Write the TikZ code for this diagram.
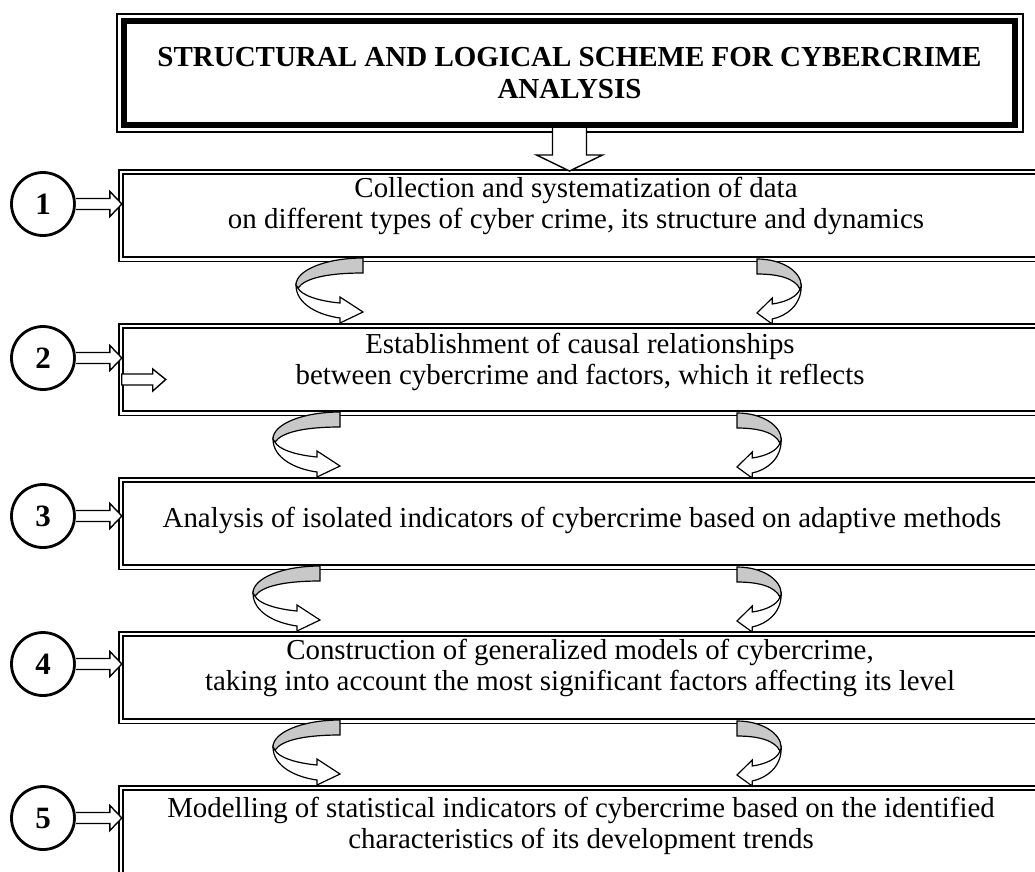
\documentclass[tikz,border=0pt]{standalone}
\usepackage{fontspec}
\setmainfont{Liberation Serif}

\begin{document}
\begin{tikzpicture}[x=1pt, y=-1pt,
  font=\fontsize{28.9}{31}\selectfont,
  stepbox/.style={draw, double, line width=1.5pt, double distance=2.7pt,
    minimum width=924pt, minimum height=87.3pt, inner sep=0pt},
  steptext/.style={align=center, inner sep=0pt},
  numcircle/.style={draw, circle, line width=2.8pt, minimum size=63pt,
    inner sep=0pt, font=\fontsize{31}{31}\selectfont\bfseries},
  blockarr/.style={draw, fill=white, line width=1.4pt, line join=miter},
  curlfront/.style={draw, fill=white, line width=1.2pt},
  curlback/.style={draw, fill=ribbongray, line width=1.2pt}]
  % Define ribbon colour
  \definecolor{ribbongray}{RGB}{200,200,200}

  % Page frame (boxes run off the right edge)
  \useasboundingbox (0,0) rectangle (1035,871);
  \clip (0,0) rectangle (1035,871);

  % Title with thick inner and thin outer border
  \node[draw, line width=6pt, minimum width=891pt, minimum height=104pt,
    align=center, font=\fontsize{29}{32}\selectfont\bfseries] (title)
    at (569.5,73) {STRUCTURAL AND LOGICAL SCHEME FOR CYBERCRIME\\ANALYSIS};
  \draw[line width=1.5pt] ([shift={(-4,-4)}]title.north west) rectangle
    ([shift={(5,4)}]title.south east);

  % Five steps: double box, number circle and arrow into the box
  \foreach \i/\cy in {1/204, 2/358, 3/516, 4/664, 5/818} {
    \node[stepbox] (b\i) at (583, {215.5+154*(\i-1)}) {};
    \node[numcircle] (c\i) at (43,\cy) {\i};
    \draw[blockarr] (c\i.east) ++(0,-5.5) -- ++(34,0) -- ++(0,-7)
      -- ++(12,12.5) -- ++(-12,12.5) -- ++(0,-7) -- ++(-34,0);
  }

  % Step texts
  \node[steptext] (t1) at (576,206) {Collection and systematization of data\\
    on different types of cyber crime, its structure and dynamics};
  \node[steptext] (t2) at (580,362) {Establishment of causal relationships\\
    between cybercrime and factors, which it reflects};
  \node[steptext] (t3) at (582,520) {Analysis of isolated indicators of
    cybercrime based on adaptive methods};
  \node[steptext] (t4) at (580,667.5) {Construction of generalized models of
    cybercrime,\\taking into account the most significant factors affecting
    its level};
  \node[steptext] (t5) at (581,826) {Modelling of statistical indicators of
    cybercrime based on the identified\\characteristics of its development
    trends};

  % Small arrow inside step 2
  \draw[blockarr] ([shift={(1.5,4.5)}]b2.west) -- ++(31,0) -- ++(0,-5)
    -- ++(13,10.5) -- ++(-13,11.5) -- ++(0,-6) -- ++(-31,0) -- cycle;

  % Arrow from title down to step 1
  \draw[blockarr] ([xshift=-17]title.south) -- ++(0,27) -- ++(-16,0)
    -- ++(33,16) -- ++(33,-16) -- ++(-16,0) -- ++(0,-27);

  % U-turn arrows between the steps (left ones, then narrower mirrored ones)
  \foreach \gx/\gy/\sx in {363/258/1, 340/412/1, 320/566/1, 340/720/1,
    757/259/-0.66, 737/413/-0.66, 737/567/-0.66, 737/721/-0.66} {
    \begin{scope}[shift={(\gx,\gy)}, xscale=\sx]
      \draw[curlfront] (-67,27) .. controls (-67,46) and (-45,57) .. (-23,60)
        -- (-23,65) -- (0,54) -- (-23,39) -- (-23,45)
        .. controls (-45,43) and (-62,37) .. (-65,30) -- cycle;
      \draw[curlback] (0,0) .. controls (-37,0) and (-67,12) .. (-67,27)
        -- (-65,30) .. controls (-58,20) and (-35,15) .. (0,15) -- cycle;
    \end{scope}
  }
\end{tikzpicture}
\end{document}
